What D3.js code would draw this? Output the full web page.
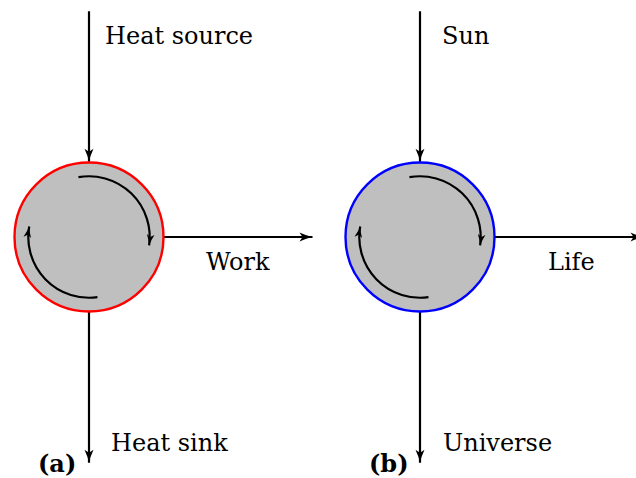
<!DOCTYPE html>
<html lang="en">
<head>
    <meta charset="UTF-8">
    <title>Heat engine and life</title>
    <script src="https://cdn.jsdelivr.net/npm/d3@7"></script>
    <style>
        body { margin: 0; background: #fff; }
        text { font-family: "DejaVu Serif", "Liberation Serif", serif; }
    </style>
</head>
<body>
<div id="chart"></div>

<script>
    // Panels, their outline colours and labels
    const panels      = ['(a)', '(b)'];
    const rimColours  = ['#ff0000', '#0000ff'];
    const topLabels   = ['Heat source', 'Sun'];
    const rightLabels = ['Work', 'Life'];
    const downLabels  = ['Heat sink', 'Universe'];

    // Arrows in diagram units: circle centre is (0,0), radius 1
    const arrowNames = ['in', 'out', 'down'];
    const arrowStart = [[0, -3.03], [1, 0], [0, 1]];
    const arrowEnd   = [[0, -1.01], [3.0, 0], [0, 3.03]];

    // Cycle arcs (degrees clockwise from 12 o'clock)
    const arcStart = [-10, 172];
    const arcEnd   = [98, 280];

    const width  = 636;
    const height = 478;

    const svg = d3.select('#chart')
        .append('svg')
        .attr('width', width)
        .attr('height', height);

    // one unit = circle radius
    const unit = 74.5;
    const px = d3.scaleLinear().domain([0, 1]).range([89, 420]);   // panel centre x
    const ux = d3.scaleLinear().domain([0, 1]).range([0, unit]);
    const cy = 237;

    // stealth-like arrow tip
    const tipPath = 'M-13,-4.5 Q-6,-1.2 0,0 Q-6,1.2 -13,4.5 L-10,0 Z';
    const defs = svg.append('defs');
    [['tip', 1], ['tipSmall', 0.85]].forEach(([id, s]) => {
        defs.append('marker')
            .attr('id', id)
            .attr('viewBox', '-14 -5 15 10')
            .attr('refX', 0)
            .attr('refY', 0)
            .attr('markerWidth', 15 * s)
            .attr('markerHeight', 10 * s)
            .attr('markerUnits', 'userSpaceOnUse')
            .attr('orient', 'auto')
            .append('path')
            .attr('d', tipPath)
            .attr('fill', '#000');
    });

    const panel = svg.selectAll('g.panel')
        .data(panels)
        .enter()
        .append('g')
        .attr('class', 'panel')
        .attr('transform', (d, i) => `translate(${px(i)},${cy})`);

    // arrows
    panel.each(function(p, i) {
        const g = d3.select(this);
        arrowNames.forEach((name, k) => {
            g.append('line')
                .attr('x1', ux(arrowStart[k][0]))
                .attr('y1', ux(arrowStart[k][1]))
                .attr('x2', ux(arrowEnd[k][0]))
                .attr('y2', ux(arrowEnd[k][1]))
                .attr('stroke', '#000')
                .attr('stroke-width', 2.2)
                .attr('marker-end', 'url(#tip)');
        });
    });

    // circle
    panel.append('circle')
        .attr('r', ux(1))
        .attr('fill', '#bfbfbf')
        .attr('stroke', (d, i) => rimColours[i])
        .attr('stroke-width', 2.4);

    // cycle arcs
    const arcR = ux(0.815);
    const arcPath = (a0, a1) => {
        const r0 = a0 * Math.PI / 180, r1 = a1 * Math.PI / 180;
        const p = d3.path();
        p.arc(0, 0, arcR, r0 - Math.PI / 2, r1 - Math.PI / 2, false);
        return p.toString();
    };
    panel.each(function() {
        const g = d3.select(this);
        arcStart.forEach((a, k) => {
            g.append('path')
                .attr('d', arcPath(a, arcEnd[k]))
                .attr('fill', 'none')
                .attr('stroke', '#000')
                .attr('stroke-width', 2.2)
                .attr('marker-end', 'url(#tipSmall)');
        });
    });

    // labels
    const fs = 24;
    panel.append('text')
        .attr('x', (d, i) => i === 0 ? 16 : 22)
        .attr('y', 44 - cy)
        .attr('font-size', fs)
        .text((d, i) => topLabels[i]);

    panel.append('text')
        .attr('x', (d, i) => i === 0 ? 117 : 128)
        .attr('y', 270 - cy)
        .attr('font-size', fs)
        .text((d, i) => rightLabels[i]);

    panel.append('text')
        .attr('x', (d, i) => i === 0 ? 22 : 23)
        .attr('y', 451 - cy)
        .attr('font-size', fs)
        .text((d, i) => downLabels[i]);

    panel.append('text')
        .attr('x', -51)
        .attr('y', 472 - cy)
        .attr('font-size', fs)
        .attr('font-weight', 'bold')
        .text(d => d);
</script>
</body>
</html>
